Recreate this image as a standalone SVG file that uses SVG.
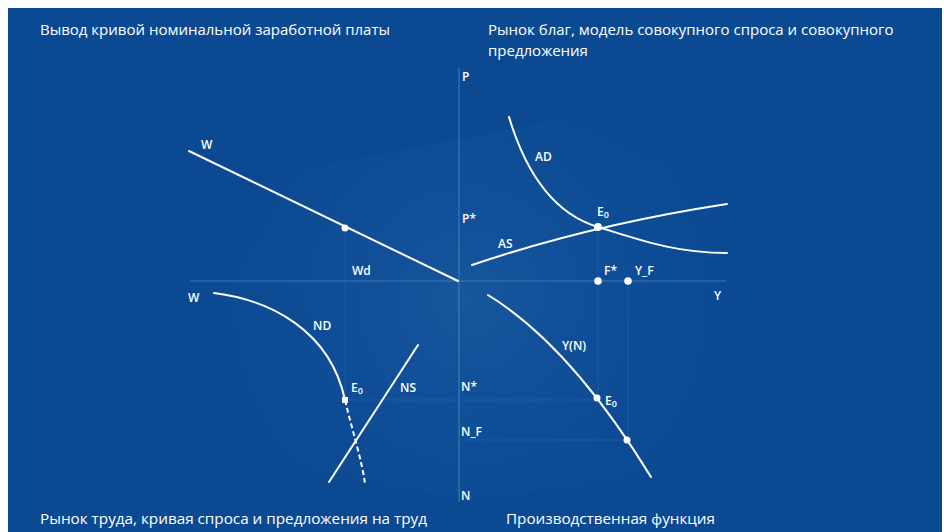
<svg xmlns="http://www.w3.org/2000/svg" width="944" height="532" viewBox="0 0 944 532">
  <defs>
    <radialGradient id="glow" cx="470" cy="300" r="330" gradientUnits="userSpaceOnUse">
      <stop offset="0" stop-color="#2f6cb0" stop-opacity="0.35"/>
      <stop offset="1" stop-color="#0b4a93" stop-opacity="0"/>
    </radialGradient>
    <style>
      .title{font-family:"Open Sans","Liberation Sans",sans-serif;font-size:15px;fill:#ffffff;}
      .ctitle{font-family:"Open Sans","Liberation Sans",sans-serif;font-size:14px;fill:#ffffff;}
      .lbl{font-family:"Open Sans","Liberation Sans",sans-serif;font-size:12px;font-weight:600;fill:#ffffff;}
      .sub{font-size:9px;}
      .axis{stroke:#4a86c6;stroke-width:1.2;fill:none;opacity:0.75;}
      .guide{stroke:#2a66ab;stroke-width:1;fill:none;opacity:0.55;}
      .curve{stroke:#ffffff;stroke-width:2;fill:none;stroke-linecap:round;}
      .dash{stroke:#ffffff;stroke-width:2;fill:none;stroke-dasharray:5 3;}
      .dot{fill:#ffffff;}
    </style>
  </defs>
  <rect x="0" y="0" width="944" height="532" fill="#ffffff"/>
  <rect x="8" y="8" width="934" height="524" fill="#0b4a93"/>
  <polygon points="300,170 560,120 760,200 800,330 700,470 470,500 260,460 200,330" fill="url(#glow)"/>

  <g id="titles">
    <text class="title" x="40" y="35">Вывод кривой номинальной заработной платы</text>
    <text class="title" x="488" y="35">Рынок благ, модель совокупного спроса и совокупного</text>
    <text class="title" x="488" y="56">предложения</text>
    <text class="ctitle" x="40" y="524" textLength="387" lengthAdjust="spacingAndGlyphs">Рынок труда, кривая спроса и предложения на труд</text>
    <text class="ctitle" x="506" y="524" textLength="209" lengthAdjust="spacingAndGlyphs">Производственная функция</text>
  </g>

  <g id="axes">
    <line class="axis" x1="190" y1="281" x2="726" y2="281"/>
    <line class="axis" x1="459" y1="68" x2="459" y2="502"/>
  </g>

  <g id="connectors">
    <line class="guide" x1="345" y1="228" x2="345" y2="400"/>
    <line class="guide" x1="598" y1="227" x2="598" y2="398"/>
    <line class="guide" x1="628" y1="281" x2="628" y2="439"/>
    <line class="guide" x1="345" y1="400" x2="597" y2="400"/>
    <line class="guide" x1="459" y1="440" x2="627" y2="440"/>
  </g>

  <g id="wage-line">
    <line class="curve" x1="189" y1="151" x2="458" y2="281"/>
    <circle class="dot" cx="345" cy="228" r="3.5"/>
    <text class="lbl" x="201" y="149">W</text>
    <text class="lbl" x="352" y="275">Wd</text>
  </g>

  <g id="ad">
    <path class="curve" d="M509,117 C528,180 558,215 598,227 C640,240 675,253 727,253"/>
    <text class="lbl" x="535" y="161">AD</text>
  </g>
  <g id="as">
    <path class="curve" d="M472,265 Q590,225 727,204"/>
    <text class="lbl" x="498" y="248">AS</text>
  </g>
  <g id="e0-top">
    <circle class="dot" cx="598" cy="227" r="4"/>
    <text class="lbl" x="597" y="216">E<tspan class="sub" dy="2">0</tspan></text>
  </g>

  <g id="y-points">
    <circle class="dot" cx="598" cy="281" r="3.8"/>
    <circle class="dot" cx="628" cy="281" r="3.8"/>
    <text class="lbl" x="604" y="275">F*</text>
    <text class="lbl" x="635" y="275">Y_F</text>
  </g>

  <g id="axis-labels">
    <text class="lbl" x="462" y="81">P</text>
    <text class="lbl" x="462" y="223">P*</text>
    <text class="lbl" x="188" y="302">W</text>
    <text class="lbl" x="714" y="300">Y</text>
    <text class="lbl" x="461" y="391">N*</text>
    <text class="lbl" x="461" y="436">N_F</text>
    <text class="lbl" x="461" y="500">N</text>
  </g>

  <g id="nd">
    <path class="curve" d="M214,293 C270,300 330,330 345,400"/>
    <path class="dash" d="M345,400 C352,430 362,460 365,484"/>
    <rect class="dot" x="342" y="397" width="6" height="6"/>
    <text class="lbl" x="313" y="330">ND</text>
    <text class="lbl" x="351" y="392">E<tspan class="sub" dy="2">0</tspan></text>
  </g>

  <g id="ns">
    <line class="curve" x1="329" y1="482" x2="418" y2="345"/>
    <text class="lbl" x="400" y="392">NS</text>
  </g>

  <g id="yn">
    <path class="curve" d="M488,295 Q570,345 651,477"/>
    <circle class="dot" cx="597" cy="398" r="3.5"/>
    <circle class="dot" cx="627" cy="440" r="3.5"/>
    <text class="lbl" x="562" y="350">Y(N)</text>
    <text class="lbl" x="605" y="405">E<tspan class="sub" dy="2">0</tspan></text>
  </g>
</svg>
